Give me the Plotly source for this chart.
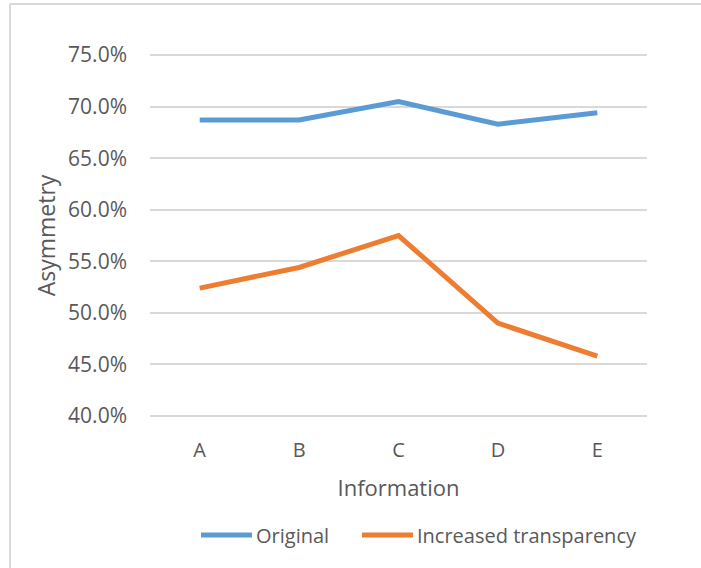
import plotly.graph_objects as go

# Categories and series values (asymmetry share per information level)
categories = ["A", "B", "C", "D", "E"]
original = [0.687, 0.687, 0.705, 0.683, 0.694]
increased_transparency = [0.524, 0.544, 0.575, 0.490, 0.458]
y_ticks = [0.40, 0.45, 0.50, 0.55, 0.60, 0.65, 0.70, 0.75]
series_names = ["Original", "Increased transparency"]
series_colors = ["#5B9BD5", "#ED7D31"]

FONT = "Open Sans"
TEXT = "#595959"
GRID = "#D9D9D9"

# padded y range so the edge gridlines are drawn
Y_LO, Y_HI = 0.398, 0.752
W, H = 701, 568
ML, MR, MT, MB = 150, 54, 53, 150
PW, PH = W - ML - MR, H - MT - MB


def px_x(v):
    # pixel column -> paper x
    return (v - ML) / PW


def px_y(v):
    # pixel row -> paper y
    return (H - MB - v) / PH


fig = go.Figure()
for name, vals, col in zip(series_names, [original, increased_transparency], series_colors):
    fig.add_trace(go.Scatter(
        x=categories, y=vals, mode="lines", name=name,
        line=dict(color=col, width=5), showlegend=False,
    ))

# chart frame (left and top edges) and legend drawn below the axis title
shapes = [
    dict(type="line", xref="paper", yref="paper",
         x0=px_x(10), x1=px_x(10), y0=px_y(4), y1=px_y(600),
         line=dict(color=GRID, width=2)),
    dict(type="line", xref="paper", yref="paper",
         x0=px_x(10), x1=px_x(720), y0=px_y(4), y1=px_y(4),
         line=dict(color=GRID, width=2)),
]
annotations = []
legend_y = px_y(535)
for name, col, x0 in zip(series_names, series_colors, [201, 362]):
    shapes.append(dict(type="line", xref="paper", yref="paper",
                       x0=px_x(x0), x1=px_x(x0 + 51), y0=legend_y, y1=legend_y,
                       line=dict(color=col, width=5)))
    annotations.append(dict(text=name, xref="paper", yref="paper",
                            x=px_x(x0 + 53), y=legend_y, xanchor="left",
                            yanchor="middle", showarrow=False,
                            font=dict(size=20, color=TEXT, family=FONT)))

fig.update_layout(
    width=W, height=H,
    margin=dict(l=ML, r=MR, t=MT, b=MB),
    paper_bgcolor="white", plot_bgcolor="white",
    font=dict(family=FONT, color=TEXT, size=20),
    showlegend=False,
    shapes=shapes,
    annotations=annotations,
)

fig.update_xaxes(
    type="category", showgrid=False, zeroline=False, showline=False,
    ticks="outside", ticklen=14, tickcolor="rgba(0,0,0,0)",
    tickfont=dict(size=20, color=TEXT),
    title=dict(text="Information", font=dict(size=22, color=TEXT), standoff=18),
    range=[-0.5, 4.5],
)
fig.update_yaxes(
    range=[Y_LO, Y_HI], tickvals=y_ticks, tickformat=".1%",
    showgrid=True, gridcolor=GRID, gridwidth=1.5, zeroline=False,
    showline=False, ticks="", ticklabelstandoff=22,
    tickfont=dict(size=21, color=TEXT),
    title=dict(text="Asymmetry", font=dict(size=23, color=TEXT), standoff=6),
)

fig.write_html("out.html")
